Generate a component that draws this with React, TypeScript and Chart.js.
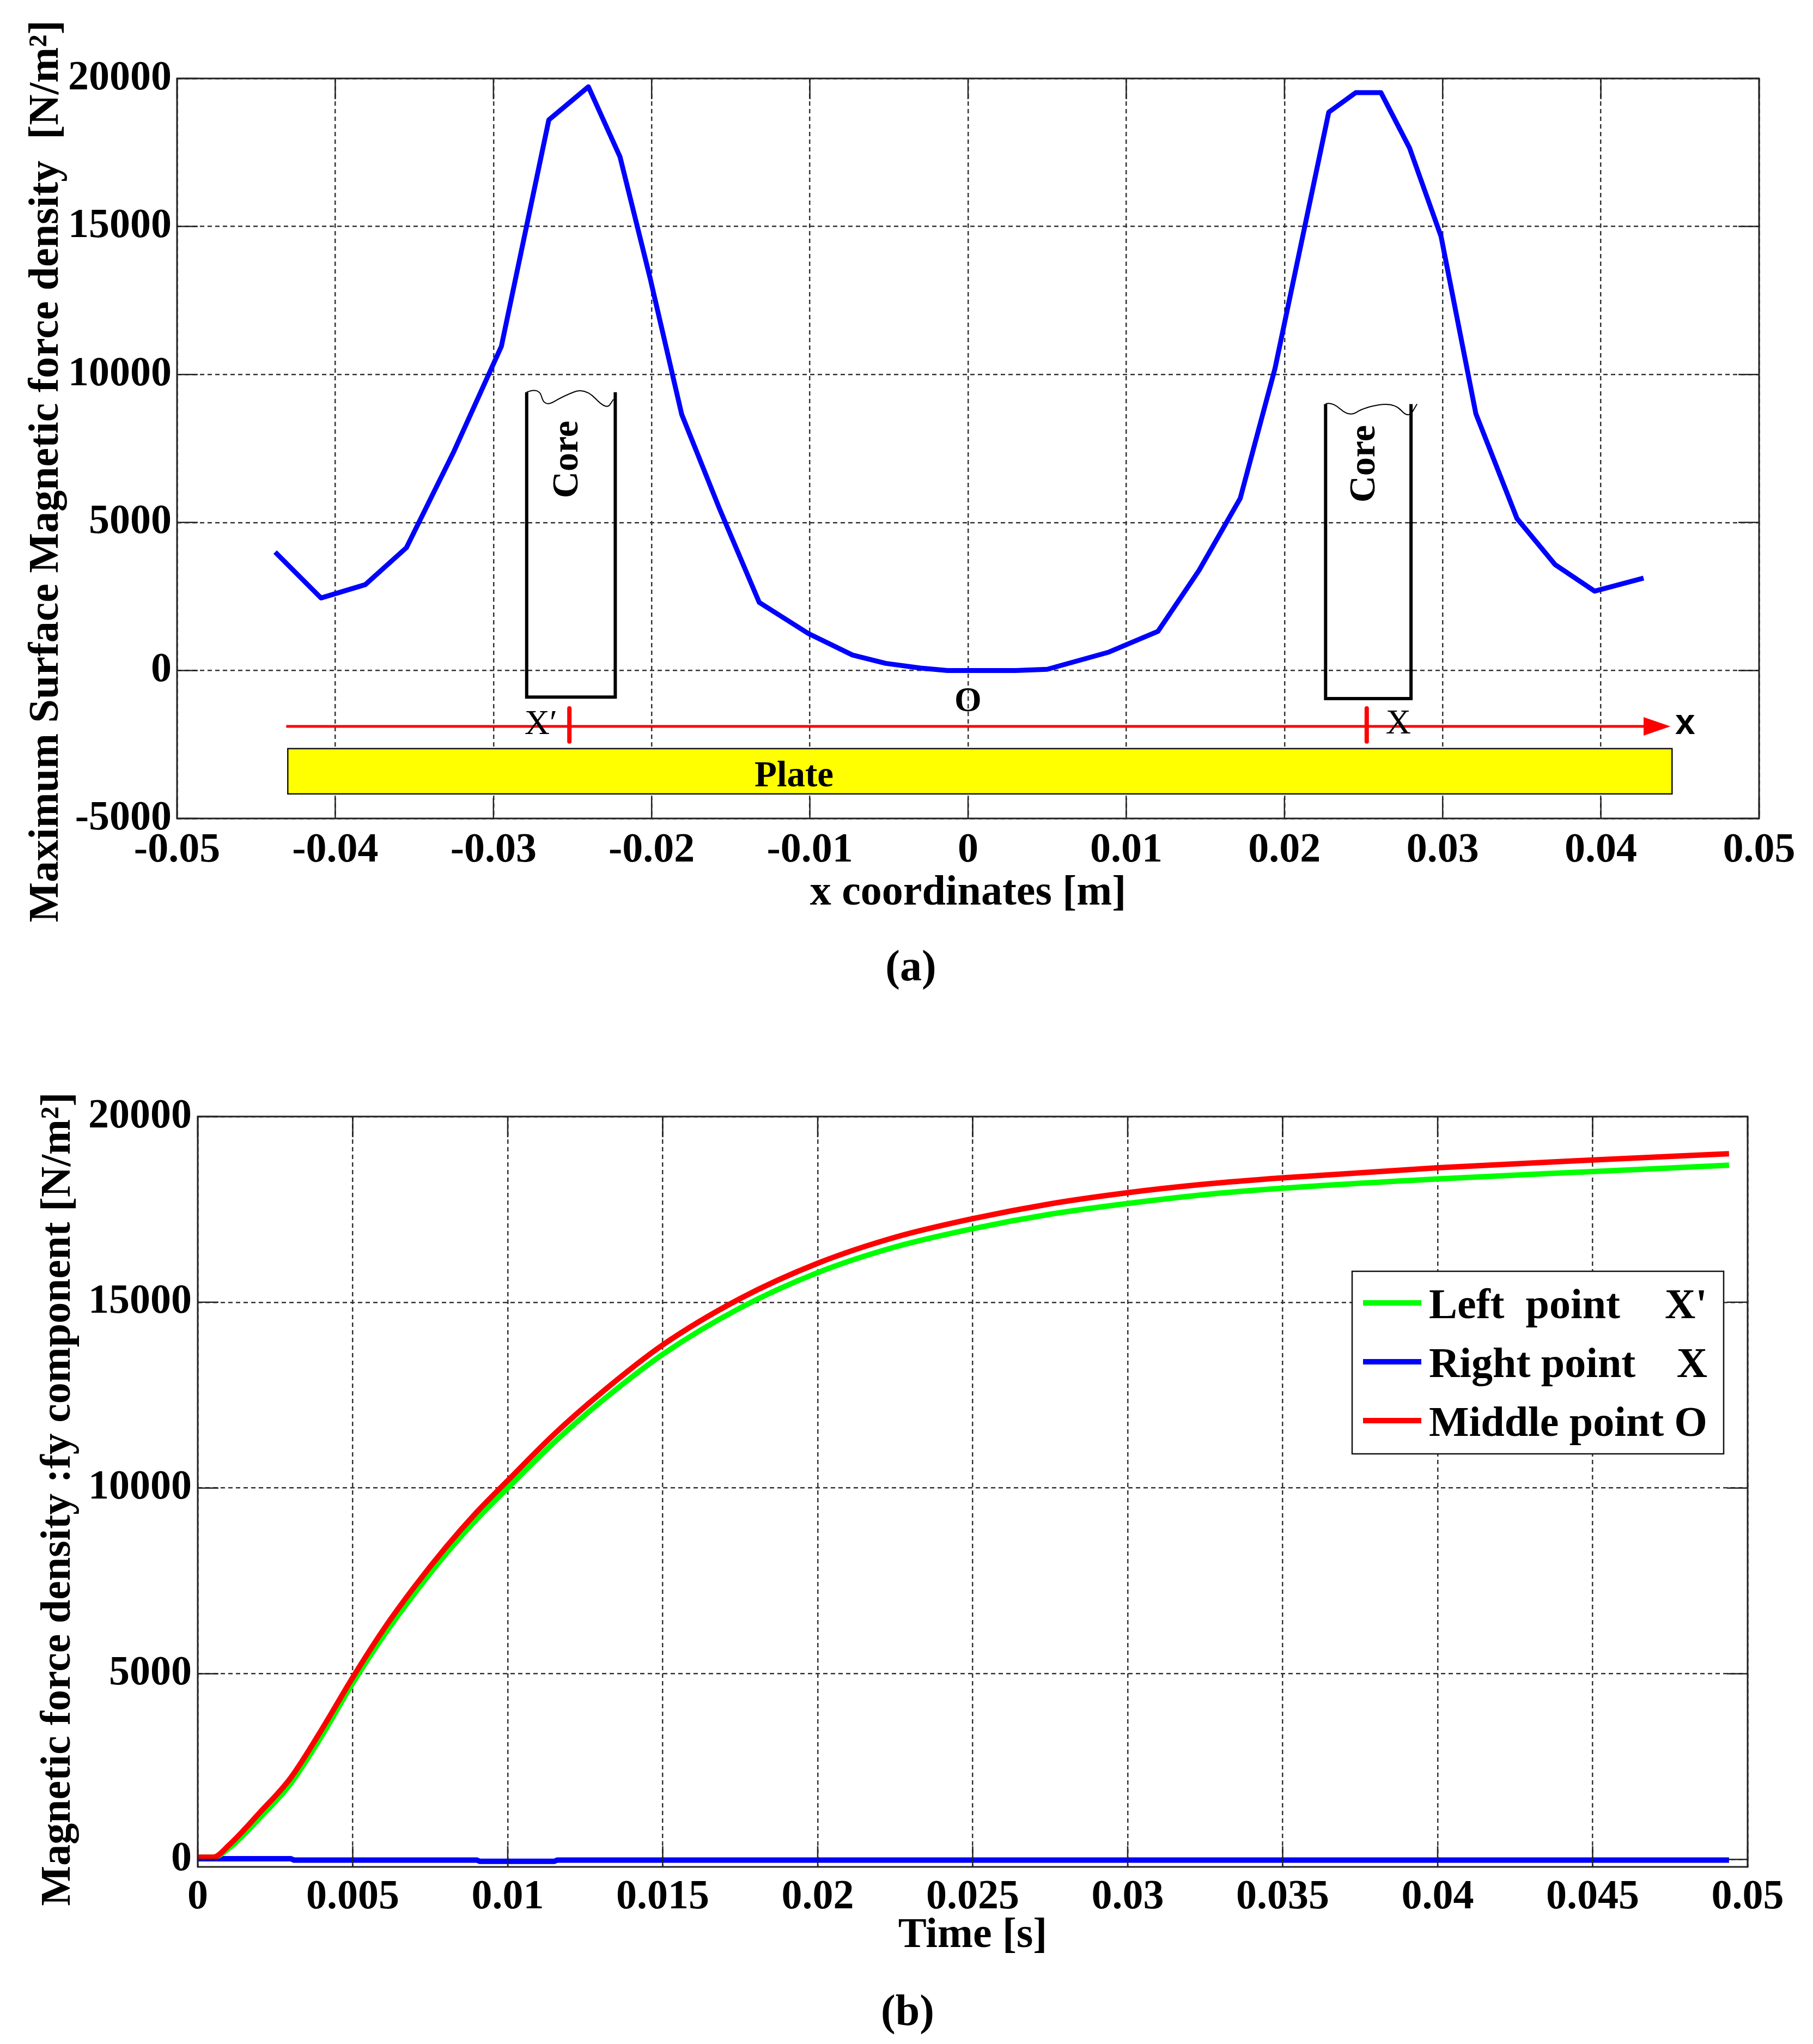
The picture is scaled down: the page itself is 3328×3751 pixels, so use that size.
import React, { useEffect, useRef } from "react";
import { Chart, registerables } from "chart.js";

Chart.register(...registerables);

const SERIF = '"Liberation Serif", "Times New Roman", serif';
const SANS = '"Liberation Sans", Arial, sans-serif';

// ---------------- (a) surface force density profile ----------------
const profileX = [
  -0.0438, -0.0409, -0.0381, -0.0355, -0.0325, -0.0295, -0.0265, -0.024, -0.022, -0.0201,
  -0.0181, -0.0157, -0.0132, -0.0101, -0.0073, -0.0052, -0.003, -0.0013, 0.003, 0.005,
  0.0089, 0.012, 0.0146, 0.0172, 0.0194, 0.0228, 0.0245, 0.0261, 0.0279, 0.0299,
  0.0321, 0.0347, 0.0371, 0.0396, 0.0427,
];
const profileY = [
  4000, 2450, 2900, 4150, 7400, 10950, 18600, 19720, 17350, 13260,
  8650, 5450, 2300, 1250, 520, 240, 80, 0, 0, 40,
  620, 1320, 3380, 5810, 10200, 18860, 19520, 19520, 17660, 14660,
  8670, 5130, 3580, 2680, 3120,
];
const aXTicks = [-0.05, -0.04, -0.03, -0.02, -0.01, 0, 0.01, 0.02, 0.03, 0.04, 0.05];
const aYTicks = [-5000, 0, 5000, 10000, 15000, 20000];
const aXLabel = "x coordinates [m]";
const aYLabel = "Maximum Surface Magnetic force density  [N/m²]";
const aCaption = "(a)";

// sketch of the device, in data units
const coreLeft = [-0.0279, 0.0226];
const coreRight = [-0.0223, 0.028];
const coreTop = [9400, 9000];
const coreBottom = [-900, -950];
const coreTextX = [-0.0253, 0.0251];
const coreTextY = [7130, 6980];
const coreText = "Core";

const refLineY = -1890;
const refLineStart = -0.0431;
const refLineEnd = 0.0444;
const refHeadBase = 0.0427;
const refMarkX = [-0.0252, 0.0252];
const refMarkTop = -1280;
const refMarkBottom = -2400;
const refLabels = ["X′", "X", "O"];
const refLabelX = [-0.027, 0.0272, 0];
const refLabelY = [-1830, -1810, -1060];
const refLabelBold = [false, false, true];
const axisName = "x";
const axisNameX = 0.0447;

const plateLeft = -0.043;
const plateRight = 0.0445;
const plateTop = -2640;
const plateBottom = -4170;
const plateText = "Plate";
const plateTextX = -0.011;
const plateTextY = -3600;

// ---------------- (b) time evolution ----------------
const timeS = [
  0, 0.0005, 0.001, 0.002, 0.003, 0.004, 0.005, 0.006, 0.007, 0.008, 0.009, 0.01, 0.0115,
  0.013, 0.015, 0.0175, 0.02, 0.0225, 0.025, 0.0275, 0.03, 0.0325, 0.035, 0.04,
  0.045, 0.0494,
];
const leftPointX = [
  60, 60, 300, 1120, 2050, 3330, 4750, 6030, 7170, 8220, 9160, 10000, 11230,
  12320, 13600, 14850, 15800, 16490, 16980, 17370, 17660, 17900, 18070, 18320,
  18520, 18690,
];
const middlePointO = [
  60, 60, 380, 1260, 2200, 3500, 4900, 6200, 7350, 8400, 9350, 10200, 11450,
  12550, 13850, 15100, 16050, 16750, 17250, 17650, 17950, 18180, 18350, 18620,
  18830, 19000,
];
const rightTimeS = [0, 0.003, 0.0031, 0.009, 0.0091, 0.0115, 0.0116, 0.0494];
const rightPointX = [20, 20, -15, -15, -50, -50, -15, -15];

const bXTicks = [0, 0.005, 0.01, 0.015, 0.02, 0.025, 0.03, 0.035, 0.04, 0.045, 0.05];
const bYTicks = [0, 5000, 10000, 15000, 20000];
const bXLabel = "Time [s]";
const bYLabel = "Magnetic force density :fy component [N/m²]";
const bCaption = "(b)";
const legendNames = ["Left  point", "Right point", "Middle point"];
const legendMarks = ["X'", "X", "O"];
const seriesColors = ["#00ff00", "#0000ff", "#ff0000"];

// ---------------- helpers ----------------
const fmt = (v: any) => String(Number(Number(v).toFixed(4)));
const tickFont = { family: SERIF, size: 76, weight: "bold" as const };
const titleFont = { family: SERIF, size: 78, weight: "bold" as const };

function line(ctx: any, x1: number, y1: number, x2: number, y2: number) {
  ctx.beginPath();
  ctx.moveTo(x1, y1);
  ctx.lineTo(x2, y2);
  ctx.stroke();
}

function smoothPath(ctx: any, pts: number[][]) {
  ctx.beginPath();
  ctx.moveTo(pts[0][0], pts[0][1]);
  for (let i = 1; i < pts.length - 1; i++) {
    const mx = (pts[i][0] + pts[i + 1][0]) / 2;
    const my = (pts[i][1] + pts[i + 1][1]) / 2;
    ctx.quadraticCurveTo(pts[i][0], pts[i][1], mx, my);
  }
  const last = pts[pts.length - 1];
  ctx.lineTo(last[0], last[1]);
  ctx.stroke();
}

const waveShapes = [
  [[0, 0], [0.14, -0.06], [0.2, 0.17], [0.42, 0.04], [0.66, -0.05], [0.9, 0.2], [0.98, 0.08]],
  [[0, 0], [0.07, -0.03], [0.28, 0.15], [0.45, 0.04], [0.8, -0.02], [0.97, 0.17], [1.07, 0.0]],
];

const framePlugin = {
  id: "frame",
  afterDraw(chart: any) {
    const { ctx, chartArea: a, scales } = chart;
    ctx.save();
    ctx.setLineDash([]);
    ctx.strokeStyle = "#222";
    ctx.lineWidth = 2.5;
    const tl = 38;
    scales.x.ticks.forEach((t: any) => {
      const p = scales.x.getPixelForValue(t.value);
      line(ctx, p, a.bottom, p, a.bottom - tl);
      line(ctx, p, a.top, p, a.top + tl);
    });
    scales.y.ticks.forEach((t: any) => {
      const p = scales.y.getPixelForValue(t.value);
      line(ctx, a.left, p, a.left + tl, p);
      line(ctx, a.right, p, a.right - tl, p);
    });
    ctx.lineWidth = 3;
    ctx.strokeRect(a.left, a.top, a.right - a.left, a.bottom - a.top);
    ctx.restore();
  },
};

function makeDecor(yTitle: string, yBaseX: number, yCenter: number, caption: string, capX: number, capY: number) {
  return {
    id: "decor",
    afterDraw(chart: any) {
      const { ctx } = chart;
      ctx.save();
      ctx.fillStyle = "#000";
      ctx.font = `bold 78px ${SERIF}`;
      ctx.textAlign = "center";
      ctx.textBaseline = "alphabetic";
      ctx.translate(yBaseX, yCenter);
      ctx.rotate(-Math.PI / 2);
      ctx.fillText(yTitle, 0, 0);
      ctx.restore();
      ctx.save();
      ctx.fillStyle = "#000";
      ctx.font = `bold 80px ${SERIF}`;
      ctx.textAlign = "center";
      ctx.textBaseline = "middle";
      ctx.fillText(caption, capX, capY);
      ctx.restore();
    },
  };
}

const sketchPlugin = {
  id: "sketch",
  afterDatasetsDraw(chart: any) {
    const { ctx, scales } = chart;
    const X = (v: number) => scales.x.getPixelForValue(v);
    const Y = (v: number) => scales.y.getPixelForValue(v);
    ctx.save();
    ctx.setLineDash([]);

    // plate
    const pl = X(plateLeft), pr = X(plateRight), pt = Y(plateTop), pb = Y(plateBottom);
    ctx.fillStyle = "#ffff00";
    ctx.fillRect(pl, pt, pr - pl, pb - pt);
    ctx.strokeStyle = "#111";
    ctx.lineWidth = 2.5;
    ctx.strokeRect(pl, pt, pr - pl, pb - pt);
    ctx.fillStyle = "#000";
    ctx.font = `bold 67px ${SERIF}`;
    ctx.textAlign = "center";
    ctx.textBaseline = "middle";
    ctx.fillText(plateText, X(plateTextX), Y(plateTextY));

    // cores
    for (let i = 0; i < coreLeft.length; i++) {
      const L = X(coreLeft[i]), R = X(coreRight[i]), T = Y(coreTop[i]), B = Y(coreBottom[i]);
      ctx.strokeStyle = "#000";
      ctx.lineWidth = 6;
      ctx.lineJoin = "miter";
      ctx.beginPath();
      ctx.moveTo(L, T);
      ctx.lineTo(L, B);
      ctx.lineTo(R, B);
      ctx.lineTo(R, T);
      ctx.stroke();
      const w = R - L;
      ctx.lineWidth = 2;
      smoothPath(ctx, waveShapes[i].map((p) => [L + p[0] * w, T + p[1] * w]));
      ctx.save();
      ctx.translate(X(coreTextX[i]), Y(coreTextY[i]));
      ctx.rotate(-Math.PI / 2);
      ctx.fillStyle = "#000";
      ctx.font = `bold 68px ${SERIF}`;
      ctx.textAlign = "center";
      ctx.textBaseline = "middle";
      ctx.fillText(coreText, 0, 0);
      ctx.restore();
    }

    // red reference axis
    const ly = Y(refLineY);
    ctx.strokeStyle = "#ff0000";
    ctx.lineWidth = 5;
    line(ctx, X(refLineStart), ly, X(refHeadBase) + 2, ly);
    ctx.fillStyle = "#ff0000";
    ctx.beginPath();
    ctx.moveTo(X(refLineEnd), ly);
    ctx.lineTo(X(refHeadBase), ly - 17);
    ctx.lineTo(X(refHeadBase), ly + 17);
    ctx.closePath();
    ctx.fill();

    // labels on the axis
    ctx.fillStyle = "#000";
    ctx.textAlign = "center";
    ctx.textBaseline = "middle";
    refLabels.forEach((t, i) => {
      ctx.font = `${refLabelBold[i] ? "bold " : ""}64px ${SERIF}`;
      ctx.fillText(t, X(refLabelX[i]), Y(refLabelY[i]));
    });

    ctx.strokeStyle = "#ff0000";
    ctx.lineWidth = 8;
    ctx.lineCap = "round";
    refMarkX.forEach((m) => line(ctx, X(m), Y(refMarkTop), X(m), Y(refMarkBottom)));

    ctx.fillStyle = "#000";
    ctx.font = `bold 66px ${SANS}`;
    ctx.textAlign = "left";
    ctx.textBaseline = "middle";
    ctx.fillText(axisName, X(axisNameX), ly - 4);
    ctx.restore();
  },
};

const legendPlugin = {
  id: "boxLegend",
  afterDatasetsDraw(chart: any) {
    const { ctx, chartArea: a } = chart;
    const left = a.right - 726;
    const right = a.right - 44;
    const top = a.top + 284;
    const bottom = a.top + 619;
    ctx.save();
    ctx.setLineDash([]);
    ctx.fillStyle = "#fff";
    ctx.fillRect(left, top, right - left, bottom - top);
    ctx.strokeStyle = "#111";
    ctx.lineWidth = 2.5;
    ctx.strokeRect(left, top, right - left, bottom - top);
    ctx.font = `bold 78px ${SERIF}`;
    ctx.textBaseline = "alphabetic";
    legendNames.forEach((name, i) => {
      const cy = top + 58 + i * 108;
      ctx.strokeStyle = seriesColors[i];
      ctx.lineWidth = 10;
      line(ctx, left + 20, cy, left + 127, cy);
      ctx.fillStyle = "#000";
      ctx.textAlign = "left";
      ctx.fillText(name, left + 141, cy + 28);
      ctx.textAlign = "right";
      ctx.fillText(legendMarks[i], left + 652, cy + 28);
    });
    ctx.restore();
  },
};

function baseScale(min: number, max: number, ticks: number[], pad: number) {
  return {
    type: "linear" as const,
    min,
    max,
    afterBuildTicks: (s: any) => {
      s.ticks = ticks.map((v) => ({ value: v }));
    },
    ticks: {
      font: tickFont,
      color: "#000",
      padding: pad,
      maxRotation: 0,
      minRotation: 0,
      autoSkip: false,
      callback: fmt,
    },
    grid: { color: "#333", lineWidth: 2.5, drawTicks: false },
    border: { display: false, dash: [8, 6] },
  };
}

export default function App() {
  const aRef = useRef<HTMLCanvasElement>(null);
  const bRef = useRef<HTMLCanvasElement>(null);

  useEffect(() => {
    const chartA = new Chart(aRef.current as HTMLCanvasElement, {
      type: "line",
      data: {
        datasets: [
          {
            data: profileX.map((x, i) => ({ x, y: profileY[i] })),
            borderColor: "#0000ff",
            borderWidth: 9,
            pointRadius: 0,
            tension: 0,
            fill: false,
            borderJoinStyle: "round",
          },
        ],
      },
      options: {
        animation: false,
        responsive: false,
        devicePixelRatio: 1,
        layout: { padding: { left: 0, right: 99, top: 144, bottom: 0 } },
        plugins: { legend: { display: false }, tooltip: { enabled: false } },
        scales: {
          x: {
            ...baseScale(-0.05, 0.05, aXTicks, 14),
            afterFit: (s: any) => {
              s.height = 348;
            },
            title: {
              display: true,
              text: aXLabel,
              font: titleFont,
              color: "#000",
              padding: { top: 0, bottom: 163 },
            },
          },
          y: {
            ...baseScale(-5000, 20000, aYTicks, 10),
            afterFit: (s: any) => {
              s.width = 325;
            },
          },
        },
      } as any,
      plugins: [sketchPlugin, framePlugin, makeDecor(aYLabel, 106, 865, aCaption, 1672, 1778)],
    });

    const chartB = new Chart(bRef.current as HTMLCanvasElement, {
      type: "line",
      data: {
        datasets: [
          {
            label: legendNames[0],
            data: timeS.map((x, i) => ({ x, y: leftPointX[i] })),
            borderColor: seriesColors[0],
            borderWidth: 10,
            pointRadius: 0,
            cubicInterpolationMode: "monotone",
            fill: false,
            order: 1,
          },
          {
            label: legendNames[1],
            data: rightTimeS.map((x, i) => ({ x, y: rightPointX[i] })),
            borderColor: seriesColors[1],
            borderWidth: 10,
            pointRadius: 0,
            tension: 0,
            fill: false,
            order: 2,
          },
          {
            label: legendNames[2],
            data: timeS.map((x, i) => ({ x, y: middlePointO[i] })),
            borderColor: seriesColors[2],
            borderWidth: 10,
            pointRadius: 0,
            cubicInterpolationMode: "monotone",
            fill: false,
            order: 0,
          },
        ],
      },
      options: {
        animation: false,
        responsive: false,
        devicePixelRatio: 1,
        layout: { padding: { left: 0, right: 120, top: 199, bottom: 0 } },
        plugins: { legend: { display: false }, tooltip: { enabled: false } },
        scales: {
          x: {
            ...baseScale(0, 0.05, bXTicks, 11),
            afterFit: (s: any) => {
              s.height = 325;
            },
            title: {
              display: true,
              text: bXLabel,
              font: titleFont,
              color: "#000",
              padding: { top: 0, bottom: 151 },
            },
          },
          y: {
            ...baseScale(-200, 20000, bYTicks, 11),
            afterFit: (s: any) => {
              s.width = 363;
            },
          },
        },
      } as any,
      plugins: [legendPlugin, framePlugin, makeDecor(bYLabel, 128, 901, bCaption, 1666, 1845)],
    });

    return () => {
      chartA.destroy();
      chartB.destroy();
    };
  }, []);

  return (
    <div
      style={{
        position: "absolute",
        left: 0,
        top: 0,
        width: 3328,
        height: 3751,
        background: "#fff",
        overflow: "hidden",
      }}
    >
      <canvas
        ref={aRef}
        width={3328}
        height={1850}
        style={{ position: "absolute", left: 0, top: 0, width: 3328, height: 1850 }}
      />
      <canvas
        ref={bRef}
        width={3328}
        height={1901}
        style={{ position: "absolute", left: 0, top: 1850, width: 3328, height: 1901 }}
      />
    </div>
  );
}
